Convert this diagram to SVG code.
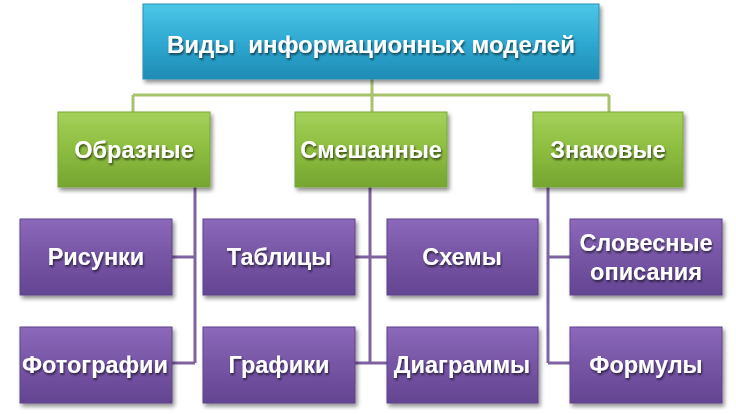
<svg xmlns="http://www.w3.org/2000/svg" width="736" height="415" viewBox="0 0 736 415">
<defs>
<linearGradient id="gBlue" x1="0" y1="0" x2="0" y2="1">
<stop offset="0" stop-color="#4cc6e6"/><stop offset="0.5" stop-color="#2fa9d2"/><stop offset="1" stop-color="#1f8cb5"/>
</linearGradient>
<linearGradient id="gGreen" x1="0" y1="0" x2="0" y2="1">
<stop offset="0" stop-color="#a3d05a"/><stop offset="0.5" stop-color="#8dbd3f"/><stop offset="1" stop-color="#76a532"/>
</linearGradient>
<linearGradient id="gPurple" x1="0" y1="0" x2="0" y2="1">
<stop offset="0" stop-color="#8c68ba"/><stop offset="0.5" stop-color="#7655a5"/><stop offset="1" stop-color="#634592"/>
</linearGradient>
<filter id="sh" x="-10%" y="-10%" width="125%" height="130%">
<feGaussianBlur in="SourceAlpha" stdDeviation="2"/>
<feOffset dx="2" dy="3" result="b"/>
<feComponentTransfer><feFuncA type="linear" slope="0.45"/></feComponentTransfer>
<feMerge><feMergeNode/><feMergeNode in="SourceGraphic"/></feMerge>
</filter>
<filter id="tsh" x="-10%" y="-30%" width="120%" height="160%">
<feGaussianBlur in="SourceAlpha" stdDeviation="1"/>
<feOffset dx="1" dy="1.5"/>
<feComponentTransfer><feFuncA type="linear" slope="0.6"/></feComponentTransfer>
<feMerge><feMergeNode/><feMergeNode in="SourceGraphic"/></feMerge>
</filter>
</defs>
<style>
.t{font-family:"Liberation Sans",Arial,sans-serif;font-weight:bold;fill:#fff;text-anchor:middle;filter:url(#tsh);font-size:23.5px}
.blue{fill:url(#gBlue);stroke:#2a8fb3;stroke-width:1;filter:url(#sh)}
.green{fill:url(#gGreen);stroke:#79a838;stroke-width:1;filter:url(#sh)}
.purple{fill:url(#gPurple);stroke:#5f4489;stroke-width:1;filter:url(#sh)}
.lg{stroke:#a8c46a;stroke-width:3;fill:none}
.lp{stroke:#7f63a0;stroke-width:3;fill:none}
</style>
<rect width="736" height="415" fill="#fff"/>
<g id="connectors">
<path class="lg" d="M372 79 V95 M133 95 H609 M133 95 V112 M372 95 V112 M609 95 V112"/>
<path class="lp" d="M195 187 V363 M172 257 H195 M172 363 H195"/>
<path class="lp" d="M370 187 V363 M355 257 H387 M355 363 H387"/>
<path class="lp" d="M548 187 V363 M548 257 H570 M548 363 H570"/>
</g>
<g id="root"><rect class="blue" x="143" y="4" width="456" height="75"/><text class="t" x="371" y="53" style="font-size:24px" xml:space="preserve">Виды  информационных моделей</text></g>
<g id="obraznye"><rect class="green" x="58" y="112" width="152" height="75"/><text class="t" x="134" y="158">Образные</text></g>
<g id="smeshannye"><rect class="green" x="295" y="112" width="152" height="75"/><text class="t" x="371" y="158">Смешанные</text></g>
<g id="znakovye"><rect class="green" x="533" y="112" width="150" height="75"/><text class="t" x="608" y="158">Знаковые</text></g>
<g id="risunki"><rect class="purple" x="20" y="219" width="152" height="76"/><text class="t" x="96" y="265">Рисунки</text></g>
<g id="tablitsy"><rect class="purple" x="203" y="219" width="152" height="76"/><text class="t" x="279" y="265">Таблицы</text></g>
<g id="skhemy"><rect class="purple" x="387" y="219" width="151" height="76"/><text class="t" x="462" y="265">Схемы</text></g>
<g id="slovesnye"><rect class="purple" x="570" y="219" width="152" height="76"/><text class="t" x="646" y="251">Словесные</text><text class="t" x="646" y="280">описания</text></g>
<g id="fotografii"><rect class="purple" x="20" y="327" width="152" height="76"/><text class="t" x="95" y="373">Фотографии</text></g>
<g id="grafiki"><rect class="purple" x="203" y="327" width="152" height="76"/><text class="t" x="279" y="373">Графики</text></g>
<g id="diagrammy"><rect class="purple" x="387" y="327" width="151" height="76"/><text class="t" x="462" y="373">Диаграммы</text></g>
<g id="formuly"><rect class="purple" x="570" y="327" width="152" height="76"/><text class="t" x="646" y="373">Формулы</text></g>
</svg>
